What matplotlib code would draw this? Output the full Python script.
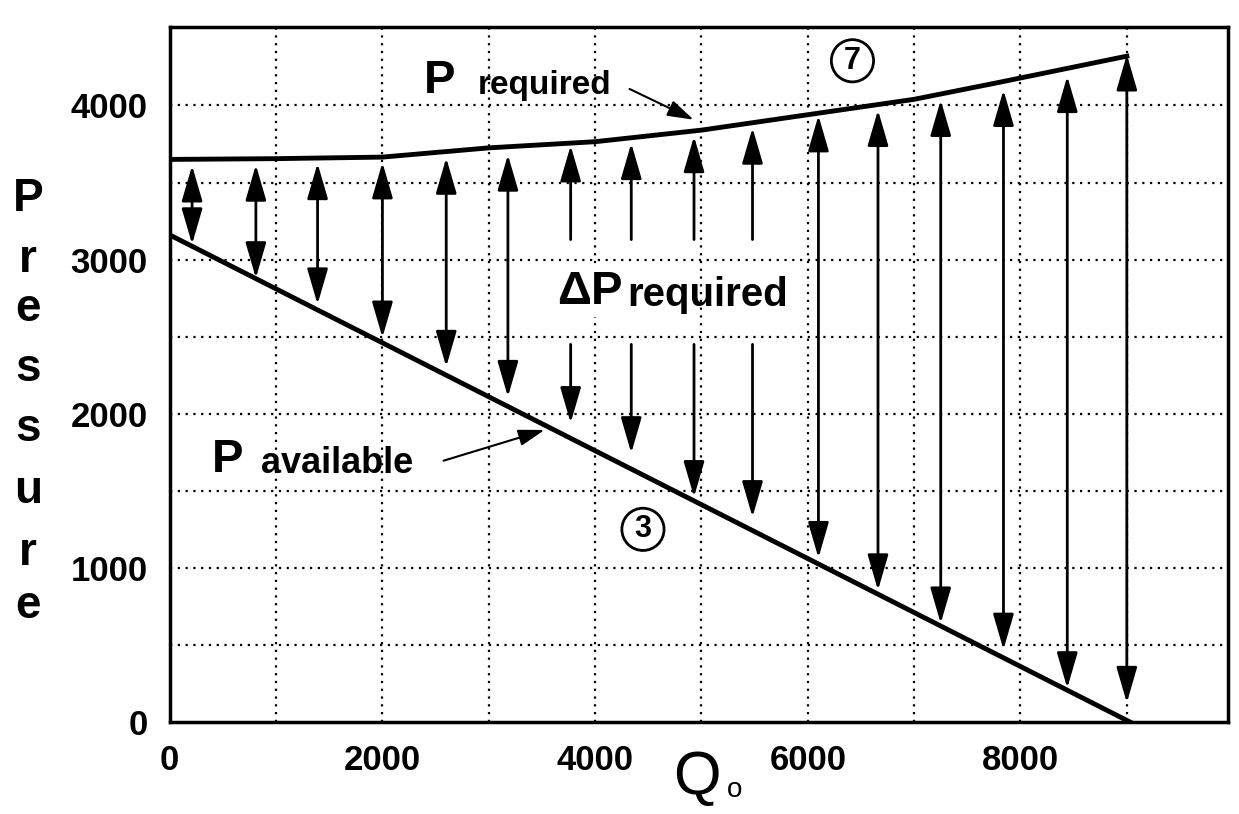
import matplotlib.pyplot as plt
from matplotlib.patches import FancyArrowPatch

plt.rcParams['font.family'] = ['Liberation Sans', 'DejaVu Sans']

# P required curve (7)
q_req = [0, 1000, 2000, 3000, 4000, 5000, 6000, 7000, 7800, 9000]
p_req = [3650, 3655, 3665, 3725, 3765, 3840, 3940, 4040, 4150, 4320]

# P available line (3)
q_avail = [0, 9030]
p_avail = [3160, 0]

# delta P arrows: x position, upper tip, lower tip
arrow_q = [210, 810, 1390, 2000, 2600, 3180, 3770, 4340, 4930, 5480,
           6100, 6660, 7250, 7840, 8440, 9000]
arrow_top = [3610, 3615, 3625, 3630, 3660, 3680, 3740, 3755, 3800, 3855,
             3935, 3970, 4035, 4100, 4190, 4330]
arrow_bot = [3100, 2880, 2710, 2495, 2305, 2110, 1940, 1745, 1460, 1330,
             1065, 855, 640, 470, 220, 125]
# arrows broken around the "delta P required" label
gap_q = [3770, 4340, 4930, 5480]
gap_hi = 3130
gap_lo = 2450

xticks = [0, 2000, 4000, 6000, 8000]
yticks = [0, 1000, 2000, 3000, 4000]

fig = plt.figure(figsize=(12.39, 8.14), dpi=100)
ax = fig.add_axes([0.137, 0.113, 0.854, 0.854])
ax.set_xlim(0, 9950)
ax.set_ylim(0, 4510)

# dotted grid
for gx in range(1000, 10000, 1000):
    ax.axvline(gx, color='black', ls=(0, (1, 2.5)), lw=1.6, zorder=1)
for gy in range(500, 4500, 500):
    ax.axhline(gy, color='black', ls=(0, (1, 2.5)), lw=1.6, zorder=1)

ax.plot(q_req, p_req, color='black', lw=3.5, zorder=3)
ax.plot(q_avail, p_avail, color='black', lw=3.5, zorder=3)

def arrow(x, y0, y1, style):
    a = FancyArrowPatch((x, y0), (x, y1), arrowstyle=style,
                        mutation_scale=20, color='black', lw=2, zorder=4,
                        shrinkA=0, shrinkB=0)
    ax.add_patch(a)

for x, t, b in zip(arrow_q, arrow_top, arrow_bot):
    if x in gap_q:
        arrow(x, gap_hi, t, '-|>,head_length=1.1,head_width=0.32')
        arrow(x, gap_lo, b, '-|>,head_length=1.1,head_width=0.32')
    else:
        arrow(x, b, t, '<|-|>,head_length=1.1,head_width=0.32')

# labels
ax.text(2390, 4160, 'P', fontsize=34, fontweight='bold', va='center')
ax.text(2900, 4130, 'required', fontsize=24, fontweight='bold', va='center')
ax.annotate('', xy=(4950, 3900), xytext=(4300, 4115),
            arrowprops=dict(arrowstyle='-|>,head_length=0.8,head_width=0.25',
                            color='black', lw=1.5, mutation_scale=20))
ax.text(6420, 4290, '7', fontsize=22, fontweight='bold', ha='center', va='center',
        bbox=dict(boxstyle='circle,pad=0.2', fc='white', ec='black', lw=2))

ax.text(3640, 2790, '\u0394P', fontsize=34, fontweight='bold', va='center',
        bbox=dict(fc='white', ec='none', pad=2), zorder=5)
ax.text(4300, 2770, 'required', fontsize=29, fontweight='bold', va='center', zorder=5)

ax.text(400, 1700, 'P', fontsize=34, fontweight='bold', va='center',
        bbox=dict(fc='white', ec='none', pad=1), zorder=5)
ax.text(860, 1675, 'available', fontsize=26, fontweight='bold', va='center', zorder=5)
ax.annotate('', xy=(3550, 1900), xytext=(2550, 1690),
            arrowprops=dict(arrowstyle='-|>,head_length=0.8,head_width=0.25',
                            color='black', lw=1.5, mutation_scale=20))
ax.text(4450, 1250, '3', fontsize=22, fontweight='bold', ha='center', va='center',
        bbox=dict(boxstyle='circle,pad=0.2', fc='white', ec='black', lw=2))

ax.set_xticks(xticks)
ax.set_yticks(yticks)
ax.tick_params(length=0, labelsize=25)
ax.tick_params(axis='y', pad=16)
ax.tick_params(axis='x', pad=16)
for lab in ax.get_xticklabels() + ax.get_yticklabels():
    lab.set_fontweight('bold')
for s in ax.spines.values():
    s.set_linewidth(2.5)

# stacked axis title "Pressure"
letters = 'Pressure'
ys = [199, 260, 309, 369, 429, 491, 553, 606]
for ch, yp in zip(letters, ys):
    fig.text(28 / 1239, 1 - yp / 814, ch, fontsize=33, fontweight='bold',
             ha='center', va='center')

fig.text(697 / 1239, 1 - 778 / 814, 'Q', fontsize=44, ha='center', va='center')
fig.text(735 / 1239, 1 - 790 / 814, 'o', fontsize=20, ha='center', va='center')

plt.savefig('out.png', dpi=100)
